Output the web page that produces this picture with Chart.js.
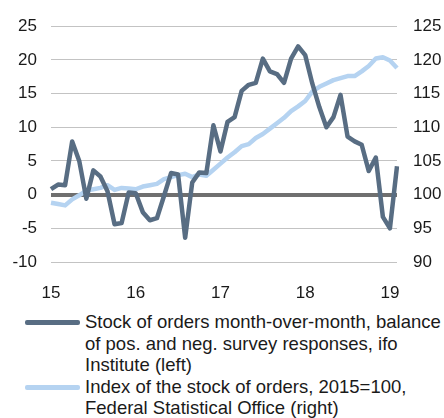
<!DOCTYPE html>
<html lang="en">
<head>
<meta charset="utf-8" />
<title>Stock of orders</title>
<script src="https://cdn.jsdelivr.net/npm/chart.js@4/dist/chart.umd.min.js"></script>
<style>
  body { margin: 0; background: #fff; }
  #wrap { position: relative; width: 444px; height: 418px; font-family: "Liberation Sans", Arial, sans-serif; color: #1a1a1a; }
  #chart { position: absolute; left: 0; top: 0; }
  #legend { position: absolute; left: 0; top: 311px; width: 444px; font-size: 18.5px; line-height: 21.6px; }
  .swatch { position: absolute; left: 25px; width: 55px; height: 4.5px; border-radius: 2px; }
  .txt { position: absolute; left: 85px; white-space: nowrap; }
</style>
</head>
<body>
<div id="wrap">
  <canvas id="chart" width="444" height="298"></canvas>
  <div id="legend">
    <div class="swatch" style="top:9px;background:#586d83"></div>
    <div class="txt" style="top:0">Stock of orders month-over-month, balance<br>of pos. and neg. survey responses, ifo<br>Institute (left)</div>
    <div class="swatch" style="top:74px;background:#b5d3f1"></div>
    <div class="txt" style="top:64.8px">Index of the stock of orders, 2015=100,<br>Federal Statistical Office (right)</div>
  </div>
</div>
<script>
// year tick labels, one per January
const years = ["15", "16", "17", "18", "19"];
// months shown in last year (Jan, Feb 2019)
const monthsLastYear = 2;

// ifo balance, monthly Jan 2015 - Feb 2019 (left axis)
const ifoBalance = [
  0.8, 1.5, 1.4, 7.9, 5.0, -0.6, 3.6, 2.7, 0.5, -4.4, -4.2, 0.3,
  0.2, -2.6, -3.8, -3.5, -0.2, 3.2, 3.0, -6.4, 1.8, 3.3, 3.2, 10.3,
  6.4, 10.8, 11.5, 15.4, 16.3, 16.6, 20.2, 18.3, 17.9, 16.6, 20.2, 22.0,
  20.7, 16.5, 13.0, 10.0, 11.5, 14.8, 8.6, 7.9, 7.4, 3.5, 5.5, -3.3,
  -5.0, 4.2
];
// Destatis index, 2015=100 (right axis)
const ordersIndex = [
  98.8, 98.6, 98.4, 99.3, 99.9, 100.6, 100.8, 101.0, 101.4, 100.7, 101.0, 100.9,
  100.8, 101.2, 101.4, 101.6, 102.3, 102.6, 102.9, 103.1, 102.6, 103.0, 102.8, 103.7,
  104.6, 105.5, 106.3, 107.2, 107.5, 108.4, 109.0, 109.8, 110.6, 111.4, 112.4, 113.1,
  113.9, 115.3, 116.0, 116.5, 117.0, 117.3, 117.6, 117.6, 118.3, 119.1, 120.2, 120.4,
  119.9, 118.8
];

const labels = [];
years.forEach((y, k) => {
  const n = k === years.length - 1 ? monthsLastYear : 12;
  for (let m = 1; m <= n; m++) labels.push(m === 1 ? y : y + "-" + m);
});

const tickFont = { family: "'Liberation Sans', Arial, sans-serif", size: 17 };

new Chart(document.getElementById("chart"), {
  type: "line",
  data: {
    labels: labels,
    datasets: [
      {
        data: ifoBalance,
        yAxisID: "yL",
        borderColor: "#586d83",
        borderWidth: 4.5,
        pointRadius: 0,
        tension: 0,
        borderJoinStyle: "round",
      },
      {
        data: ordersIndex,
        yAxisID: "yR",
        borderColor: "#b5d3f1",
        borderWidth: 4.5,
        pointRadius: 0,
        tension: 0,
        borderJoinStyle: "round",
      },
    ],
  },
  options: {
    responsive: false,
    animation: false,
    devicePixelRatio: 1,
    layout: { padding: { top: 21, left: 0, right: 0, bottom: 0 } },
    plugins: { legend: { display: false }, tooltip: { enabled: false } },
    scales: {
      x: {
        offset: false,
        grid: { display: false },
        border: { display: false },
        ticks: {
          autoSkip: false,
          maxRotation: 0,
          padding: 13,
          color: "#1a1a1a",
          font: tickFont,
          callback: function (v, i) {
            const l = labels[i];
            return l.indexOf("-") < 0 ? l : "";
          },
        },
        afterFit: (s) => { s.height = 36; },
      },
      yL: {
        position: "left",
        min: -10,
        max: 25,
        border: { display: false },
        grid: {
          drawTicks: false,
          color: (c) => (c.tick && c.tick.value === 0 ? "#6f6f6f" : "#c3c3c3"),
          lineWidth: (c) => (c.tick && c.tick.value === 0 ? 4 : 1),
        },
        ticks: { stepSize: 5, padding: 14, color: "#1a1a1a", font: tickFont },
        afterFit: (s) => { s.width = 51; },
      },
      yR: {
        position: "right",
        min: 90,
        max: 125,
        border: { display: false },
        grid: { drawOnChartArea: false, drawTicks: false },
        ticks: { stepSize: 5, padding: 16, color: "#1a1a1a", font: tickFont },
        afterFit: (s) => { s.width = 47; },
      },
    },
  },
});
</script>
</body>
</html>
